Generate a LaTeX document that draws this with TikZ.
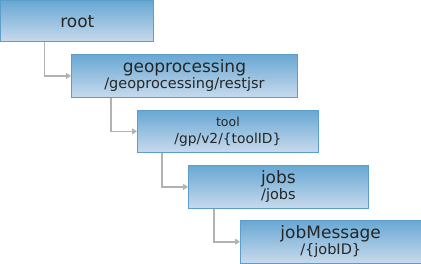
\documentclass[tikz,border=0pt]{standalone}
\usepackage{fontspec}
\setmainfont{DejaVu Sans}
\usetikzlibrary{arrows.meta}
\definecolor{boxtop}{HTML}{68A8D4}
\definecolor{boxbottom}{HTML}{C8DAEC}
\definecolor{boxline}{HTML}{5C9DC9}
\definecolor{linkgray}{HTML}{B2B2B2}
\newcommand{\subline}[1]{{\fontsize{14.5}{16}\selectfont #1}}
\begin{document}
\begin{tikzpicture}[
  x=1pt, y=-1pt,
  box/.style={rectangle,draw=boxline,line width=0.8pt,top color=boxtop,bottom color=boxbottom,anchor=north west,align=center,inner sep=0pt,text=black!85,font=\fontsize{17}{16}\selectfont},
  arrow/.style={-{Triangle[length=5pt,width=6pt]},draw=linkgray,line width=1.6pt}
]
\useasboundingbox (0,0) rectangle (421,263);

% ===== boxes =====
\node[box,minimum width=153pt,minimum height=41pt] (root) at (0.4,0.4) {root};

\node[box,minimum width=226pt,minimum height=43pt] (geo) at (71,54)
  {geoprocessing\\\subline{/geoprocessing/restjsr}};

\node[box,minimum width=181pt,minimum height=42pt,font=\fontsize{12.5}{17}\selectfont] (tool) at (137,110)
  {tool\\{\fontsize{13.8}{16}\selectfont /gp/v2/\{toolID\}}};

\node[box,minimum width=180pt,minimum height=43pt] (jobs) at (188,165)
  {jobs\\\subline{/jobs}};

\node[box,minimum width=180.6pt,minimum height=42.6pt] (jobmsg) at (240,220)
  {jobMessage\\\subline{/\{jobID\}}};

% ===== links =====
\draw[arrow] ([xshift=44pt]root.south west) |- (geo.west);
\draw[arrow] ([xshift=40pt]geo.south west) |- (tool.west);
\draw[arrow] ([xshift=25pt]tool.south west) |- (jobs.west);
\draw[arrow] ([xshift=26pt]jobs.south west) |- (jobmsg.west);

\end{tikzpicture}
\end{document}
